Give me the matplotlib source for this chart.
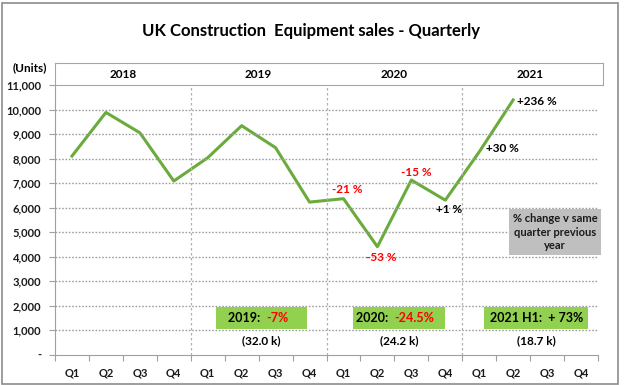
import numpy as np
import matplotlib
matplotlib.use("Agg")
import matplotlib.pyplot as plt
from matplotlib.patches import Rectangle

plt.rcParams['font.family'] = ['Lato', 'DejaVu Sans']
plt.rcParams['font.weight'] = 'bold'

# dati
years = ['2018', '2019', '2020', '2021']
quarters = ['Q1', 'Q2', 'Q3', 'Q4']
sales = [8100, 9880, 9050, 7080,
         8030, 9340, 8440, 6220,
         6360, 4400, 7120, 6300,
         8270, 10390]
pct_idx = [8, 9, 10, 11, 12, 13]
pct_labels = ['-21 %', '-53 %', '-15 %', '+1 %', '+30 %', '+236 %']
pct_colors = ['red', 'red', 'red', 'black', 'black', 'black']
pct_offsets = [(4, 9), (4, -11), (5, 8), (4, -9), (23, 3), (4, -2)]
box_year = ['2019:  ', '2020:  ', '2021 H1:  + 73%']
box_change = ['-7%', '-24.5%', '']
box_total = ['(32.0 k)', '(24.2 k)', '(18.7 k)']

W, H = 624, 385
fig = plt.figure(figsize=(W / 100, H / 100), dpi=100)
fig.patches.append(Rectangle((2 / W, 1 / H), 616 / W, 381 / H, transform=fig.transFigure,
                             fill=False, edgecolor='#8c8c8c', linewidth=1.2))

ax = fig.add_axes([55 / W, 30.5 / H, 543 / W, 269.5 / H])
x = np.arange(len(sales)) + 0.5
ax.plot(x, sales, color='#6aab3c', linewidth=2.2)

ax.set_xlim(0, 16)
ax.set_ylim(0, 11000)
yt = np.arange(0, 11001, 1000)
ax.set_yticks(yt)
ax.set_yticklabels(['-'] + ['{:,}'.format(v) for v in yt[1:]], fontsize=8, color='#1a1a1a')
ax.set_xticks(np.arange(0, 17))
ax.set_xticklabels([])
ax.set_xticks(np.arange(16) + 0.5, minor=True)
ax.set_xticklabels(quarters * 4, minor=True, fontsize=8, color='#1a1a1a')
ax.tick_params(axis='x', which='minor', length=0, pad=9)
ax.tick_params(axis='x', which='major', length=4, color='#a0a0a0', direction='out')
ax.tick_params(axis='y', length=4, color='#a0a0a0', pad=6)

for v in yt[1:-1]:
    ax.axhline(v, color='#a0a0a0', linewidth=1.0, linestyle=(0, (1.2, 1.2)))
for b in [4, 8, 12]:
    ax.axvline(b, color='#b0b0b0', linewidth=0.9, linestyle=(0, (2, 2)))
for s in ['top', 'right']:
    ax.spines[s].set_visible(False)
ax.spines['left'].set_color('#a0a0a0')
ax.spines['bottom'].set_color('#a0a0a0')

# header anni
hx = fig.add_axes([55 / W, 300 / H, 548 / W, 22 / H])
hx.set_xlim(0, 16 * 548 / 543)
hx.set_ylim(0, 1)
hx.set_xticks([])
hx.set_yticks([])
for s in hx.spines.values():
    s.set_color('#a6a6a6')
for i, yr in enumerate(years):
    hx.text(4 * i + 2, 0.5, yr, ha='center', va='center', fontsize=8.5)

fig.text(311 / W, 1 - 31 / H, 'UK Construction  Equipment sales - Quarterly',
         ha='center', va='center', fontsize=12)
fig.text(30 / W, 1 - 68 / H, '(Units)', ha='center', va='center', fontsize=8.5)

# etichette variazione
for i, lab, c, off in zip(pct_idx, pct_labels, pct_colors, pct_offsets):
    ha = 'left' if lab == '+236 %' else 'center'
    ax.annotate(lab, (x[i], sales[i]), xytext=off, textcoords='offset pixels',
                ha=ha, va='center', color=c, fontsize=8.5)

# riquadro grigio
ax.add_patch(Rectangle((13.38, 4060), 2.71, 1880, facecolor='#bfbfbf', edgecolor='none',
                       clip_on=False, zorder=3))
ax.text(14.73, 5000, '% change v same\nquarter previous\nyear', ha='center', va='center',
        fontsize=8, linespacing=1.3, zorder=4, color='#1a1a1a')

# riquadri verdi
boxes = [(4.74, 2.70, 6.22), (8.79, 2.71, 10.0), (12.65, 3.06, 14.18)]
for (bx, bw, split), yl, ch, tot in zip(boxes, box_year, box_change, box_total):
    ax.add_patch(Rectangle((bx, 1040), bw, 900, facecolor='#92d050', edgecolor='none', zorder=3))
    if ch:
        ax.text(split, 1490, yl, ha='right', va='center', fontsize=9, zorder=4)
        ax.text(split, 1490, ch, ha='left', va='center', fontsize=9, color='red', zorder=4)
    else:
        ax.text(bx + bw / 2, 1490, yl, ha='center', va='center', fontsize=9, zorder=4)
    ax.text(bx + bw / 2, 550, tot, ha='center', va='center', fontsize=8.5, zorder=4)

fig.savefig('out.png', dpi=100)
